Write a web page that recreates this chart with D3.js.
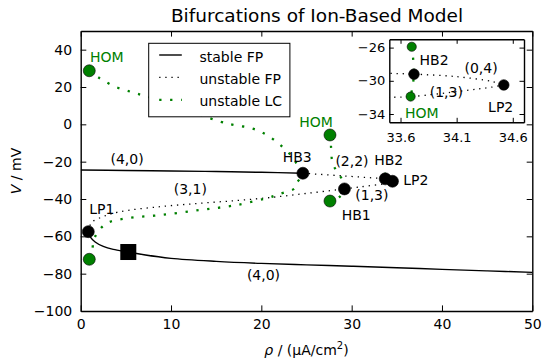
<!DOCTYPE html>
<html><head><meta charset="utf-8">
<script src="https://cdn.jsdelivr.net/npm/d3@7"></script>
<style>
body{margin:0;background:#fff}
text{font-family:"DejaVu Sans",sans-serif}
</style>
</head><body>
<svg id="c" width="547" height="361"></svg>
<script>
// ---------- data ----------
const xTicks = [0, 10, 20, 30, 40, 50];
const yTicks = [-100, -80, -60, -40, -20, 0, 20, 40];
const insetXTicks = [33.6, 34.1, 34.6];
const insetYTicks = [-34, -30, -26];

// stable fixed points [rho, V]
const stableUpper = [[0, -24.5], [5, -24.7], [10, -25.0], [15, -25.3], [20, -25.7], [24.6, -26.2]];
const stableLower = [[0.84, -57.5], [1.1, -60.5], [1.6, -63.0], [2.5, -65.4], [3.6, -67.0], [5.27, -68.4], [7, -69.9],
  [10, -71.8], [15, -73.4], [20, -74.5], [25, -75.3], [30, -76.0], [35, -76.8], [40, -77.7], [45, -78.5], [50, -79.3]];
// unstable fixed points
const unstable31 = [[0.84, -57.5], [1.2, -52.7], [2.5, -49.4], [4.35, -46.8], [8.8, -44.1], [13.2, -42.3],
  [17.3, -40.8], [21, -39.2], [25, -37.0], [29.2, -34.6]];
const unstable13 = [[29.2, -34.6], [31, -33.5], [33.5, -32.0], [33.7, -31.9], [34.16, -31.2], [34.42, -30.75], [34.52, -30.5]];
const unstable22 = [[24.6, -26.2], [29, -27.6], [33.5, -29.1], [33.72, -29.2], [34.1, -29.5], [34.42, -30.1], [34.52, -30.5]];
// unstable limit cycles
const lc1 = [[0.95, 28.7], [2.1, 24.7], [3.8, 20.2], [5.5, 17.5], [7.1, 15.2], [10, 11.0], [13, 5.5], [15.4, 1.5],
  [16.9, -0.3], [18.9, -2.1], [20.6, -5.7], [22.1, -11.1], [23.4, -17.3], [24.1, -22.7], [24.6, -26.2],
  [23.9, -31.6], [23.7, -34.3], [22.8, -36.1], [21.7, -37.8], [21, -39.0], [17.3, -43.2], [13.2, -45.9],
  [8.8, -48.6], [5.1, -50.3], [2.9, -53.0], [1.8, -58.4], [1.4, -62.9], [1.3, -66.6], [0.95, -72.3]];
const lc2 = [[27.6, -5.7], [27.7, -11.1], [27.9, -20.9], [28.5, -26.2], [29.1, -30.7], [29.2, -34.6], [28.7, -38.7], [27.6, -41.1]];
const lc3 = [[33.7, -25.9], [33.72, -29.2], [33.69, -31.9]];

// markers
const greenPoints = [[0.95, 28.7], [27.6, -5.7], [27.6, -41.1], [0.95, -72.3]];
const blackPoints = [[0.84, -57.5], [24.6, -26.2], [29.2, -34.6], [33.72, -29.2], [34.52, -30.5]];
const squarePoints = [[5.27, -68.4]];
const insetGreenPoints = [[33.7, -25.9], [33.69, -31.9]];
const insetBlackPoints = [[33.72, -29.2], [34.52, -30.5]];

// annotations (text, rho, V)
const blackLabels = [["HB3", 22.37, -20.0], ["(2,2)", 28.2, -22.2], ["HB2", 32.5, -21.8], ["LP2", 35.7, -32.5],
  ["(1,3)", 30.4, -40.5], ["HB1", 28.9, -51.2], ["(3,1)", 10.3, -37.3], ["LP1", 0.95, -48.3],
  ["(4,0)", 3.3, -21.4], ["(4,0)", 18.4, -83.6]];
const greenLabels = [["HOM", 1.03, 33.6], ["HOM", 24.2, -1.2]];
const insetBlackLabels = [["HB2", 33.77, -28.1], ["(0,4)", 34.17, -29.0], ["(1,3)", 33.86, -31.9], ["LP2", 34.38, -33.7]];
const insetGreenLabels = [["HOM", 33.64, -34.5]];

const legendLabels = ["stable FP", "unstable FP", "unstable LC"];
const titleText = "Bifurcations of Ion-Based Model";

// ---------- drawing ----------
const GREEN = "#008000";
const svg = d3.select("#c");
svg.append("rect").attr("width", 547).attr("height", 361).attr("fill", "#fff");

const x = d3.scaleLinear().domain([0, 50]).range([80.7, 532.3]);
const y = d3.scaleLinear().domain([-100, 50]).range([311, 31]);
const ix = d3.scaleLinear().domain([33.5, 34.7]).range([389.3, 524]);
const iy = d3.scaleLinear().domain([-35, -25]).range([122.3, 39.3]);

const defs = svg.append("defs");
defs.append("clipPath").attr("id", "clipMain").append("rect")
  .attr("x", x(0)).attr("y", y(50)).attr("width", x(50) - x(0)).attr("height", y(-100) - y(50));
defs.append("clipPath").attr("id", "clipInset").append("rect")
  .attr("x", ix(33.5)).attr("y", iy(-25)).attr("width", ix(34.7) - ix(33.5)).attr("height", iy(-35) - iy(-25));

function drawData(g, sx, sy, opts) {
  const line = d3.line().x(d => sx(d[0])).y(d => sy(d[1])).curve(d3.curveCatmullRom.alpha(0.5));
  const solid = s => g.append("path").attr("d", line(s)).attr("fill", "none").attr("stroke", "#000").attr("stroke-width", 1.4);
  const dotB = s => g.append("path").attr("d", line(s)).attr("fill", "none").attr("stroke", "#000")
    .attr("stroke-width", 1.3).attr("stroke-dasharray", "1.3,4.8");
  const dotG = s => g.append("path").attr("d", line(s)).attr("fill", "none").attr("stroke", GREEN)
    .attr("stroke-width", 2.3).attr("stroke-dasharray", "2.3,8.6");
  solid(stableUpper); solid(stableLower);
  dotB(unstable31); dotB(unstable13); dotB(unstable22);
  dotG(lc1); dotG(lc2); dotG(lc3);
  g.selectAll(null).data(opts.green).join("circle")
    .attr("cx", d => sx(d[0])).attr("cy", d => sy(d[1])).attr("r", opts.rg)
    .attr("fill", GREEN).attr("stroke", "#000").attr("stroke-width", 0.6);
  g.selectAll(null).data(opts.black).join("circle")
    .attr("cx", d => sx(d[0])).attr("cy", d => sy(d[1])).attr("r", opts.rb)
    .attr("fill", "#000").attr("stroke", "#000").attr("stroke-width", 0.6);
  g.selectAll(null).data(opts.square).join("rect")
    .attr("x", d => sx(d[0]) - 8).attr("y", d => sy(d[1]) - 8).attr("width", 16).attr("height", 16)
    .attr("fill", "#000");
}

// main data
const gMain = svg.append("g").attr("clip-path", "url(#clipMain)");
drawData(gMain, x, y, {green: greenPoints, black: blackPoints, square: squarePoints, rg: 6, rb: 6});

// main labels
svg.selectAll(null).data(blackLabels).join("text")
  .attr("x", d => x(d[1])).attr("y", d => y(d[2])).text(d => d[0])
  .attr("font-size", 14).attr("fill", "#000");
svg.selectAll(null).data(greenLabels).join("text")
  .attr("x", d => x(d[1])).attr("y", d => y(d[2])).text(d => d[0])
  .attr("font-size", 14).attr("fill", GREEN);

// main axes
function styleAxis(g, fs) {
  g.selectAll(".domain").attr("stroke", "#000").attr("stroke-width", 1.4);
  g.selectAll(".tick line").attr("stroke", "#000").attr("stroke-width", 1);
  g.selectAll("text").attr("font-size", fs).attr("font-family", "DejaVu Sans").attr("fill", "#000");
}
const TL = -5.6;
svg.append("g").attr("transform", `translate(0,${y(-100)})`)
  .call(d3.axisBottom(x).tickValues(xTicks).tickSize(TL).tickSizeOuter(0).tickPadding(8)).call(g => styleAxis(g, 14));
svg.append("g").attr("transform", `translate(0,${y(50)})`)
  .call(d3.axisTop(x).tickValues(xTicks).tickSize(TL).tickSizeOuter(0).tickFormat("")).call(g => styleAxis(g, 14));
svg.append("g").attr("transform", `translate(${x(0)},0)`)
  .call(d3.axisLeft(y).tickValues(yTicks).tickSize(TL).tickSizeOuter(0).tickPadding(8.5)).call(g => styleAxis(g, 14));
svg.append("g").attr("transform", `translate(${x(50)},0)`)
  .call(d3.axisRight(y).tickValues(yTicks).tickSize(TL).tickSizeOuter(0).tickFormat("")).call(g => styleAxis(g, 14));

// legend
const lg = svg.append("g");
lg.append("rect").attr("x", 148.7).attr("y", 43.3).attr("width", 141.2).attr("height", 73.5)
  .attr("fill", "#fff").attr("stroke", "#000").attr("stroke-width", 1);
legendLabels.forEach((t, i) => {
  const yy = 55 + i * 22.4;
  const ln = lg.append("line").attr("x1", 159.2).attr("x2", 181.8).attr("y1", yy).attr("y2", yy);
  if (i === 0) ln.attr("stroke", "#000").attr("stroke-width", 1.4);
  if (i === 1) ln.attr("stroke", "#000").attr("stroke-width", 1.3).attr("stroke-dasharray", "1.3,4.8");
  if (i === 2) ln.attr("stroke", GREEN).attr("stroke-width", 2.3).attr("stroke-dasharray", "2.3,8.6");
  lg.append("text").attr("x", 199.5).attr("y", yy + 6.5).attr("font-size", 14).text(t);
});

// inset
svg.append("rect").attr("x", ix(33.5)).attr("y", iy(-25)).attr("width", ix(34.7) - ix(33.5))
  .attr("height", iy(-35) - iy(-25)).attr("fill", "#fff");
const gIn = svg.append("g").attr("clip-path", "url(#clipInset)");
drawData(gIn, ix, iy, {green: insetGreenPoints, black: insetBlackPoints, square: [], rg: 4.6, rb: 5.3});
svg.selectAll(null).data(insetBlackLabels).join("text")
  .attr("x", d => ix(d[1])).attr("y", d => iy(d[2])).text(d => d[0])
  .attr("font-size", 14).attr("fill", "#000");
svg.selectAll(null).data(insetGreenLabels).join("text")
  .attr("x", d => ix(d[1])).attr("y", d => iy(d[2])).text(d => d[0])
  .attr("font-size", 14).attr("fill", GREEN);
const ITL = -4.5;
const fmt1 = d3.format(".1f");
svg.append("g").attr("transform", `translate(0,${iy(-35)})`)
  .call(d3.axisBottom(ix).tickValues(insetXTicks).tickSize(ITL).tickSizeOuter(0).tickPadding(10).tickFormat(fmt1)).call(g => styleAxis(g, 13));
svg.append("g").attr("transform", `translate(0,${iy(-25)})`)
  .call(d3.axisTop(ix).tickValues(insetXTicks).tickSize(ITL).tickSizeOuter(0).tickFormat("")).call(g => styleAxis(g, 13));
svg.append("g").attr("transform", `translate(${ix(33.5)},0)`)
  .call(d3.axisLeft(iy).tickValues(insetYTicks).tickSize(ITL).tickSizeOuter(0).tickPadding(4)).call(g => styleAxis(g, 13));
svg.append("g").attr("transform", `translate(${ix(34.7)},0)`)
  .call(d3.axisRight(iy).tickValues(insetYTicks).tickSize(ITL).tickSizeOuter(0).tickFormat("")).call(g => styleAxis(g, 13));

// title
svg.append("text").attr("x", 317).attr("y", 21.5).attr("text-anchor", "middle")
  .attr("font-size", 18.5).text(titleText);

// x label
const xl = svg.append("text").attr("x", (x(0) + x(50)) / 2).attr("y", 355).attr("text-anchor", "middle").attr("font-size", 14);
xl.append("tspan").attr("font-style", "italic").text("ρ");
xl.append("tspan").text(" / (μA/cm");
xl.append("tspan").attr("font-size", 10).attr("dy", -6).text("2");
xl.append("tspan").attr("dy", 6).text(")");

// y label
const yl = svg.append("text").attr("transform", `translate(21,${(y(-100) + y(50)) / 2}) rotate(-90)`)
  .attr("text-anchor", "middle").attr("font-size", 14);
yl.append("tspan").attr("font-style", "italic").text("V");
yl.append("tspan").text(" / mV");
</script>
</body></html>
